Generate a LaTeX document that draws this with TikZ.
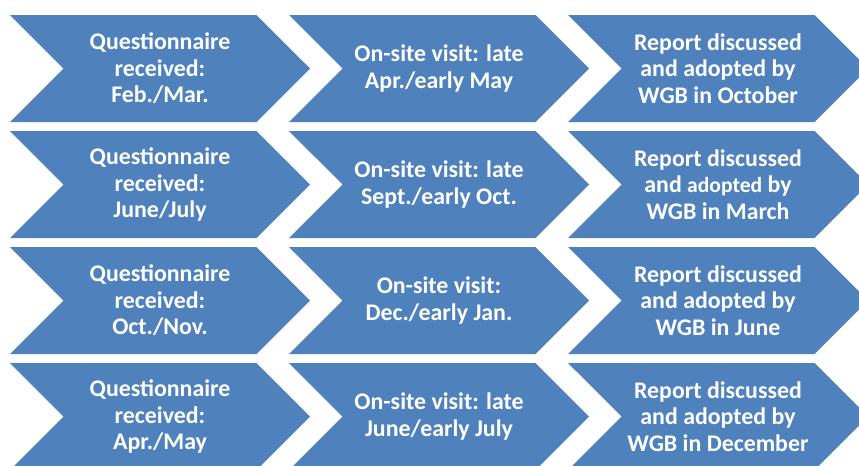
\documentclass[tikz,border=0pt]{standalone}
\usepackage{fontspec}
\setmainfont{Carlito}
\usetikzlibrary{shapes.symbols}

\definecolor{stepblue}{RGB}{79,129,189}
\tikzset{every picture/.style={line width=0.75pt}}
\tikzset{
  chevron/.style={signal, signal to=east, signal from=west, signal pointer angle=90,
    fill=stepblue, draw=none, minimum width=225pt, minimum height=80.25pt,
    inner sep=0pt, text=white, align=center,
    font=\fontsize{17.9}{19.9}\selectfont\bfseries}
}

\begin{document}
\begin{tikzpicture}[x=0.75pt,y=0.75pt,yscale=-1,xscale=1]
\useasboundingbox (0,0) rectangle (859,465);

%Row 1
\node [chevron] (q1) at (160,68.5) {Questionnaire\\received:\\Feb./Mar.};
\node [chevron] (v1) at (439,68.5) {On-site visit: late\\Apr./early May};
\node [chevron] (r1) at (718,68.5) {Report discussed\\and adopted by\\WGB in October};
%Row 2
\node [chevron] (q2) at (160,184.5) {Questionnaire\\received:\\June/July};
\node [chevron] (v2) at (439,184.5) {On-site visit: late\\Sept./early Oct.};
\node [chevron] (r2) at (718,184.5) {Report discussed\\and {\fontsize{16.2}{19.9}\selectfont adopted} by\\WGB in March};
%Row 3
\node [chevron] (q3) at (160,300.5) {Questionnaire\\received:\\Oct./Nov.};
\node [chevron] (v3) at (439,300.5) {On-site visit:\\Dec./early Jan.};
\node [chevron] (r3) at (718,300.5) {Report discussed\\and adopted by\\WGB in June};
%Row 4
\node [chevron] (q4) at (160,416.5) {Questionnaire\\received:\\Apr./May};
\node [chevron] (v4) at (439,416.5) {On-site visit: late\\June/early July};
\node [chevron] (r4) at (718,416.5) {Report discussed\\and adopted by\\WGB in December};

\end{tikzpicture}
\end{document}
